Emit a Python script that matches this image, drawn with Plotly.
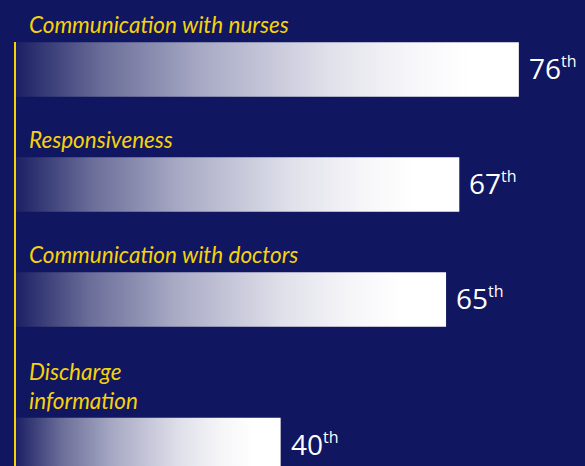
import plotly.graph_objects as go

# ---- data ----
categories = ["Communication with nurses", "Responsiveness",
              "Communication with doctors", "Discharge<br>information"]
percentiles = [76, 67, 65, 40]
suffix = "th"

# ---- style ----
BG = "#111660"
YELLOW = "#f5d20a"
ROW_PITCH = 1.0          # one row per category (in axis units)
EXTRA_LINE = 0.265       # extra space for each additional label line
BAR_H = 0.474
gradient = [[0.0, "#1c2064"], [0.17, "#6a6d98"], [0.37, "#a8aac5"],
            [0.62, "#e0e0ea"], [0.78, "#f6f6f9"], [0.9, "#ffffff"], [1.0, "#ffffff"]]

# row centres derived from how many lines each label has
rows = []
pos = 0.0
for i, c in enumerate(categories):
    if i > 0:
        pos += ROW_PITCH + EXTRA_LINE * (c.count("<br>"))
    rows.append(pos)

fig = go.Figure()
for c, v, r in zip(categories, percentiles, rows):
    y0, y1 = r - BAR_H / 2, r + BAR_H / 2
    fig.add_trace(go.Scatter(
        x=[0, v, v, 0, 0], y=[y0, y0, y1, y1, y0],
        mode="lines", line=dict(width=0), fill="toself",
        fillgradient=dict(type="horizontal", colorscale=gradient),
        hoverinfo="skip", showlegend=False))
    fig.add_annotation(x=0, y=y0, xref="x", yref="y", text=c, showarrow=False,
                       xanchor="left", yanchor="bottom", align="left",
                       xshift=11, yshift=2,
                       font=dict(family="Lato", size=22.5, color=YELLOW, style="italic"))
    fig.add_annotation(x=v, y=r, xref="x", yref="y",
                       text=f"{v}<sup><span style='font-size:16px'>{suffix}</span></sup>",
                       showarrow=False,
                       xanchor="left", yanchor="middle", xshift=8, yshift=1,
                       font=dict(family="Open Sans", size=28, color="white"))

fig.update_layout(
    width=585, height=466,
    paper_bgcolor=BG, plot_bgcolor=BG,
    margin=dict(l=16, r=0, t=42, b=0),
    xaxis=dict(range=[0, 86], visible=False, fixedrange=True),
    yaxis=dict(range=[3.448, -0.239], showgrid=False, zeroline=False,
               showticklabels=False, ticks="", showline=True,
               linecolor=YELLOW, linewidth=2, fixedrange=True),
)
fig.write_html("out.html", config={"displayModeBar": False},
               post_script="document.body.style.margin='0';document.body.style.background='%s';" % BG)
